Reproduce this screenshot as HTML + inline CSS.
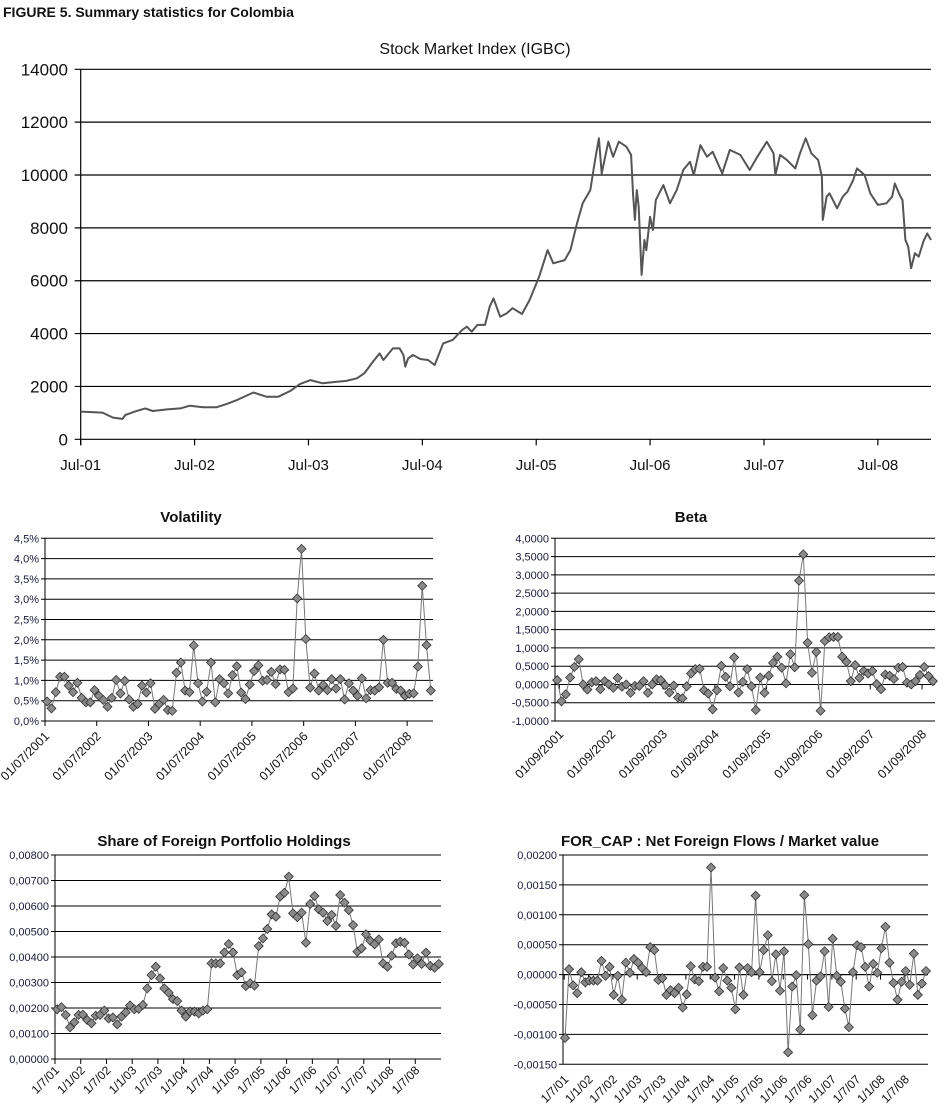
<!DOCTYPE html>
<html><head><meta charset="utf-8">
<style>
html,body{margin:0;padding:0;background:#fff;}
svg{display:block;font-family:"Liberation Sans",sans-serif;}
</style></head>
<body>
<svg id="fig" width="949" height="1120" viewBox="0 0 949 1120" xmlns="http://www.w3.org/2000/svg">
<text x="3" y="17" font-size="14" font-weight="bold" fill="#111">FIGURE 5. Summary statistics for Colombia</text>
<text x="475" y="54" font-size="16" text-anchor="middle" fill="#111">Stock Market Index  (IGBC)</text>
<text x="191" y="522" font-size="15" font-weight="bold" text-anchor="middle" fill="#111">Volatility</text>
<text x="691" y="522" font-size="15" font-weight="bold" text-anchor="middle" fill="#111">Beta</text>
<text x="224" y="846" font-size="15" font-weight="bold" text-anchor="middle" fill="#111">Share of Foreign Portfolio Holdings</text>
<text x="720" y="846" font-size="15" font-weight="bold" text-anchor="middle" fill="#111">FOR_CAP : Net Foreign Flows / Market value</text>
</svg>
<script>
// ---- Stock index data (months since Jul-01, value)
const idxMonths=[0,2.3,3.4,4.4,4.7,5.7,6.8,7.6,9.1,10.5,11.5,12.9,14.3,15.4,16.5,18.2,19.6,20.8,22.1,23.1,24.2,25.5,27.0,28.0,29.1,29.9,30.8,31.5,31.9,32.9,33.6,34.0,34.2,34.5,35.0,35.8,36.6,37.3,38.2,39.2,40.2,40.7,41.2,41.8,42.6,43.1,43.5,44.2,44.9,45.5,46.5,47.3,48.3,49.2,49.8,51.0,51.6,52.3,52.9,53.7,54.2,54.6,54.9,55.6,56.1,56.7,57.5,58.0,58.2,58.4,58.6,58.8,59.1,59.4,59.6,60.0,60.3,60.6,61.4,62.1,62.8,63.5,64.2,64.6,65.3,66.0,66.6,67.6,68.4,69.5,70.5,71.3,72.3,73.0,73.2,73.7,74.4,75.3,75.8,76.4,77.0,77.7,78.1,78.2,78.6,78.9,79.7,80.3,80.8,81.4,81.8,82.6,83.2,84.0,84.9,85.5,85.8,86.3,86.6,86.9,87.2,87.5,87.9,88.3,88.8,89.2,89.6];
const idxValues=[1050,1010,820,770,920,1050,1170,1070,1130,1170,1270,1210,1210,1340,1490,1770,1610,1610,1830,2090,2240,2120,2180,2210,2310,2500,2940,3250,3000,3440,3440,3190,2750,3060,3190,3040,3000,2810,3630,3760,4140,4260,4070,4330,4330,5020,5330,4640,4770,4960,4740,5270,6150,7160,6660,6780,7160,8170,8930,9430,10570,11390,10060,11260,10690,11260,11070,10760,9310,8300,9430,8800,6220,7540,7160,8420,7920,9050,9620,8930,9430,10190,10500,10000,11130,10690,10880,10060,10950,10760,10190,10690,11260,10820,10000,10760,10570,10250,10820,11390,10820,10570,9940,8300,9180,9310,8740,9180,9370,9810,10250,10000,9310,8870,8930,9180,9680,9240,9050,7540,7290,6470,7040,6910,7480,7790,7540];
const idxYTicks=["0","2000","4000","6000","8000","10000","12000","14000"];
const idxXLabels=["Jul-01","Jul-02","Jul-03","Jul-04","Jul-05","Jul-06","Jul-07","Jul-08"];

// ---- Volatility (%)
const volValues=[0.48,0.31,0.71,1.09,1.09,0.87,0.71,0.94,0.57,0.46,0.46,0.76,0.62,0.52,0.35,0.57,1.01,0.68,0.99,0.53,0.35,0.42,0.87,0.70,0.93,0.30,0.42,0.52,0.27,0.25,1.19,1.44,0.75,0.71,1.86,0.93,0.48,0.72,1.44,0.46,1.03,0.93,0.68,1.13,1.35,0.70,0.54,0.90,1.23,1.37,0.99,1.01,1.21,0.91,1.27,1.26,0.71,0.80,3.02,4.24,2.02,0.82,1.17,0.75,0.89,0.76,1.03,0.80,1.03,0.53,0.93,0.75,0.62,1.05,0.56,0.76,0.75,0.83,2.00,0.94,0.94,0.79,0.75,0.62,0.67,0.68,1.34,3.33,1.87,0.75];
const volYTicks=["0,0%","0,5%","1,0%","1,5%","2,0%","2,5%","3,0%","3,5%","4,0%","4,5%"];
const volXLabels=["01/07/2001","01/07/2002","01/07/2003","01/07/2004","01/07/2005","01/07/2006","01/07/2007","01/07/2008"];

// ---- Beta
const betaValues=[0.12,-0.46,-0.27,0.19,0.48,0.69,0,-0.14,0.06,0.09,-0.13,0.09,0,-0.09,0.18,-0.06,0,-0.23,-0.04,-0.04,0.09,-0.23,0,0.14,0.12,-0.02,-0.22,-0.03,-0.36,-0.38,-0.05,0.30,0.42,0.43,-0.16,-0.25,-0.68,-0.16,0.51,0.21,-0.05,0.74,-0.22,0.07,0.42,-0.05,-0.70,0.19,-0.23,0.24,0.59,0.76,0.46,0.03,0.83,0.47,2.84,3.56,1.14,0.32,0.89,-0.72,1.19,1.29,1.30,1.30,0.76,0.62,0.09,0.53,0.18,0.37,0.30,0.37,0.01,-0.13,0.27,0.24,0.15,0.46,0.48,0.05,0,0.09,0.26,0.48,0.23,0.09];
const betaYTicks=["-1,0000","-0,5000","0,0000","0,5000","1,0000","1,5000","2,0000","2,5000","3,0000","3,5000","4,0000"];
const betaXLabels=["01/09/2001","01/09/2002","01/09/2003","01/09/2004","01/09/2005","01/09/2006","01/09/2007","01/09/2008"];

// ---- Share of foreign holdings
const shareValues=[0.00195,0.00203,0.00173,0.00124,0.00144,0.00173,0.00174,0.00153,0.00140,0.00170,0.00173,0.00190,0.00159,0.00163,0.00136,0.00166,0.00183,0.00210,0.00195,0.00197,0.00212,0.00277,0.00329,0.00362,0.00316,0.00277,0.00260,0.00235,0.00227,0.00190,0.00166,0.00186,0.00186,0.00179,0.00190,0.00195,0.00375,0.00375,0.00375,0.00418,0.00451,0.00418,0.00329,0.00340,0.00286,0.00297,0.00288,0.00443,0.00473,0.00510,0.00567,0.00558,0.00637,0.00652,0.00715,0.00571,0.00556,0.00574,0.00456,0.00608,0.00639,0.00587,0.00574,0.00541,0.00565,0.00522,0.00643,0.00613,0.00584,0.00525,0.00421,0.00434,0.00489,0.00464,0.00450,0.00469,0.00375,0.00362,0.00405,0.00454,0.00460,0.00456,0.00410,0.00371,0.00395,0.00373,0.00417,0.00365,0.00358,0.00373];
const shareYTicks=["0,00000","0,00100","0,00200","0,00300","0,00400","0,00500","0,00600","0,00700","0,00800"];
const halfYearLabels=["1/7/01","1/1/02","1/7/02","1/1/03","1/7/03","1/1/04","1/7/04","1/1/05","1/7/05","1/1/06","1/7/06","1/1/07","1/7/07","1/1/08","1/7/08"];

// ---- FOR_CAP
const forcapValues=[-1.06,0.09,-0.18,-0.31,0.04,-0.13,-0.10,-0.10,-0.10,0.23,-0.02,0.13,-0.34,-0.02,-0.42,0.20,0.03,0.26,0.20,0.11,0.04,0.46,0.41,-0.09,-0.06,-0.34,-0.26,-0.31,-0.22,-0.55,-0.33,0.14,-0.08,-0.11,0.13,0.13,1.79,-0.05,-0.28,0.11,-0.10,-0.22,-0.58,0.12,-0.34,0.11,0.04,1.32,0.04,0.41,0.66,-0.11,0.34,-0.27,0.39,-1.30,-0.20,-0.01,-0.92,1.33,0.51,-0.68,-0.10,-0.03,0.39,-0.54,0.60,-0.02,-0.12,-0.57,-0.88,0.04,0.49,0.46,0.13,-0.20,0.18,0.03,0.44,0.80,0.20,-0.14,-0.42,-0.12,0.06,-0.17,0.35,-0.34,-0.15,0.06].map(v=>v/1000);
const forcapYTicks=["-0,00150","-0,00100","-0,00050","0,00000","0,00050","0,00100","0,00150","0,00200"];

const NS="http://www.w3.org/2000/svg";
const svg=document.getElementById('fig');
function mk(tag,attrs,parent){const e=document.createElementNS(NS,tag);for(const k in attrs)e.setAttribute(k,attrs[k]);(parent||svg).appendChild(e);return e;}

// ---------- Top stock chart ----------
(function(){
  const g=mk('g',{});
  
  
  const X0=80.7,X1=931,Y0=439.3,Y1=69.3,VMAX=14000,MPX=9.49;
  const xs=m=>X0+m*MPX, ys=v=>Y0-(v/VMAX)*(Y0-Y1);
  idxYTicks.forEach((t,i)=>{
    const v=i*2000,y=ys(v);
    const l=mk('line',{x1:X0-6,x2:X1,y1:y,y2:y,stroke:'#000','stroke-width':1.2},g);
    
    
    const tx=mk('text',{x:68,y:y+6,'font-size':17,'text-anchor':'end',fill:'#111'},g);
    tx.textContent=t;
    
    
  });
  mk('line',{x1:X0,x2:X0,y1:Y1,y2:Y0+6,stroke:'#000','stroke-width':1.2},g);
  idxXLabels.forEach((t,i)=>{
    const x=xs(i*12);
    mk('line',{x1:x,x2:x,y1:Y0,y2:Y0+6,stroke:'#000','stroke-width':1.2},g);
    const tx=mk('text',{x:x,y:470,'font-size':15,'text-anchor':'middle',fill:'#111'},g);
    tx.textContent=t;
    
    
  });
  const pts=idxMonths.map((m,i)=>xs(m).toFixed(1)+','+ys(idxValues[i]).toFixed(1)).join(' ');
  const pl=mk('polyline',{points:pts,fill:'none',stroke:'#555','stroke-width':2,'stroke-linejoin':'round'},g);
  
  
})();

// ---------- small marker charts ----------
function smallChart(c){
  const g=mk('g',{});
  
  
  const n=c.values.length, step=(c.x1-c.x0)/n;
  const xs=i=>c.x0+(i+0.5)*step;
  const ys=v=>c.yBot-(v-c.vmin)/(c.vmax-c.vmin)*(c.yBot-c.yTop);
  c.yTicks.forEach((t,i)=>{
    const v=c.vmin+i*c.vstep,y=ys(v);
    const l=mk('line',{x1:c.x0-4,x2:c.x1,y1:y,y2:y,stroke:'#000','stroke-width':1},g);
    
    
    const tx=mk('text',{x:c.x0-6,y:y+4,'font-size':11,'text-anchor':'end',fill:'#1a1a3a'},g);
    tx.textContent=t;
    
    
  });
  mk('line',{x1:c.x0,x2:c.x0,y1:c.yTop,y2:c.yBot,stroke:'#000','stroke-width':1},g);
  const ay=ys(c.axisVal);
  mk('line',{x1:c.x0,x2:c.x1,y1:ay,y2:ay,stroke:'#000','stroke-width':1},g);
  c.xLabels.forEach((t,k)=>{
    const x=c.x0+(k*c.every+c.tickOff)*step;
    mk('line',{x1:x,x2:x,y1:ay,y2:ay+5,stroke:'#000','stroke-width':1},g);
    const ax=x+5, yy=c.labelY;
    const tx=mk('text',{x:ax,y:yy,'font-size':c.lfs,'text-anchor':'end',fill:'#111',transform:`rotate(-45 ${ax} ${yy})`},g);
    tx.textContent=t;
    
    
  });
  const pts=c.values.map((v,i)=>xs(i).toFixed(1)+','+ys(v).toFixed(1)).join(' ');
  const pl=mk('polyline',{points:pts,fill:'none',stroke:'#777','stroke-width':1},g);
  
  
  c.values.forEach((v,i)=>{
    const x=xs(i),y=ys(v),r=4.5;
    const d=mk('polygon',{points:`${x},${y-r} ${x+r},${y} ${x},${y+r} ${x-r},${y}`,fill:'#8a8a8a',stroke:'#333','stroke-width':0.8},g);
    
    
  });
}
smallChart({name:'volatility-chart',values:volValues,yTicks:volYTicks,xLabels:volXLabels,x0:45,x1:433,yTop:538.3,yBot:721,vmin:0,vmax:4.5,vstep:0.5,axisVal:0,every:12,tickOff:0,labelY:737,lfs:12.5});
smallChart({name:'beta-chart',values:betaValues,yTicks:betaYTicks,xLabels:betaXLabels,x0:555,x1:935,yTop:538.3,yBot:721,vmin:-1,vmax:4,vstep:0.5,axisVal:0,every:12,tickOff:1,labelY:735,lfs:12.5});
smallChart({name:'share-chart',values:shareValues,yTicks:shareYTicks,xLabels:halfYearLabels,x0:55,x1:441,yTop:855,yBot:1059,vmin:0,vmax:0.008,vstep:0.001,axisVal:0,every:6,tickOff:0,labelY:1071,lfs:12});
smallChart({name:'forcap-chart',values:forcapValues,yTicks:forcapYTicks,xLabels:halfYearLabels,x0:563,x1:928,yTop:855,yBot:1064.3,vmin:-0.0015,vmax:0.002,vstep:0.0005,axisVal:0,every:6,tickOff:0.3,labelY:1080,lfs:12});
</script>
</body></html>
